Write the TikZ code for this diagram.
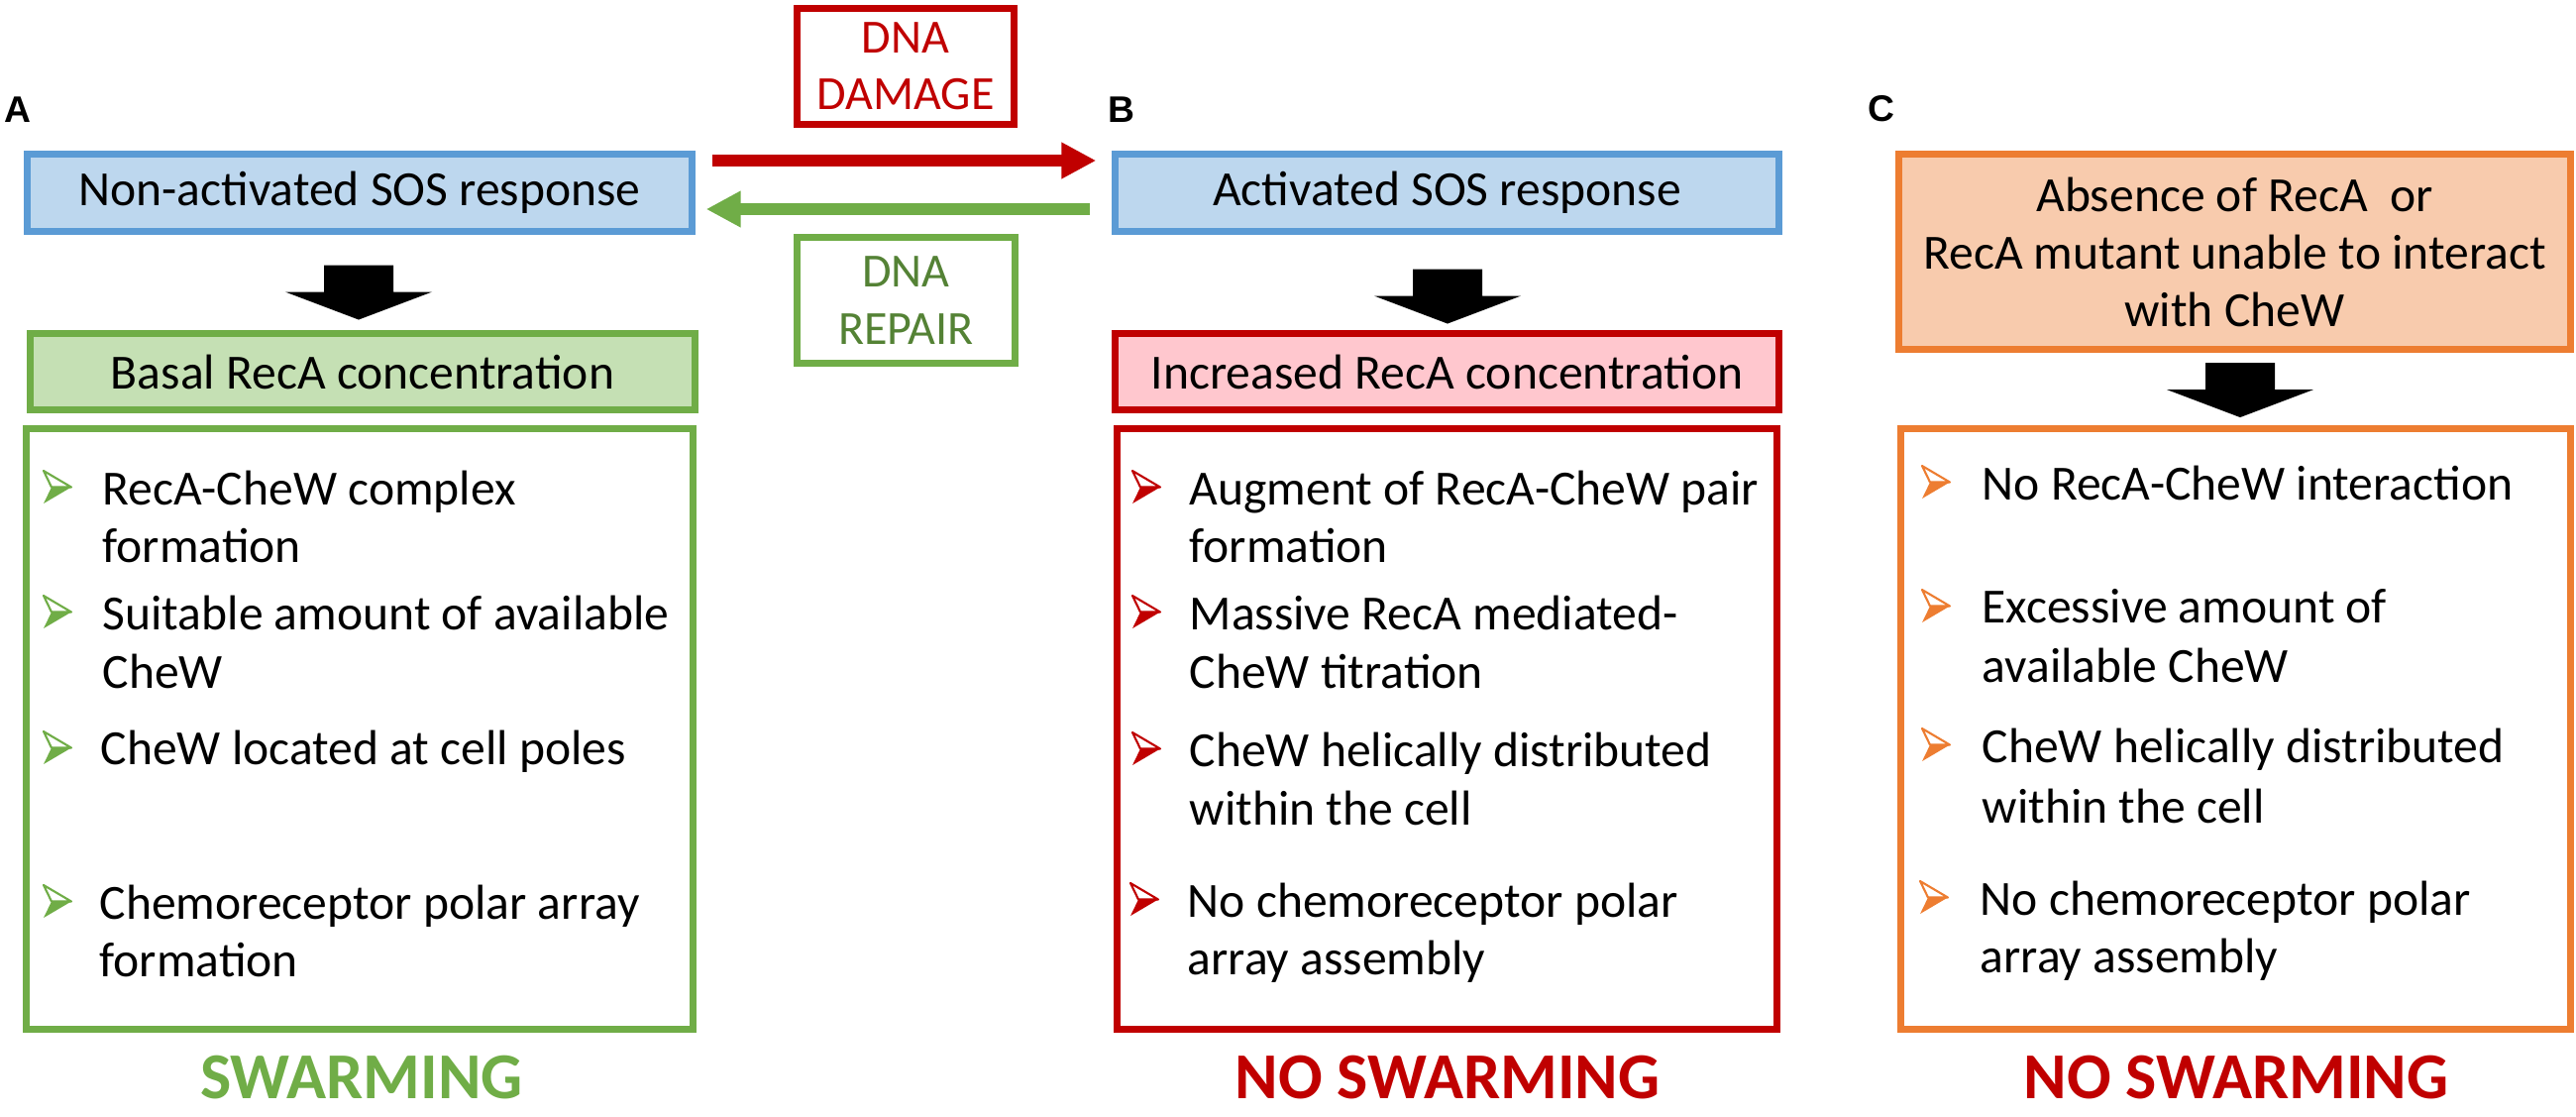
\documentclass[tikz,border=0pt]{standalone}
\usepackage{fontspec}
\setmainfont{Carlito}
\newfontfamily\labfont{Liberation Sans}
\usetikzlibrary{arrows.meta,calc}
\definecolor{bluebd}{HTML}{5B9BD5}
\definecolor{bluefill}{HTML}{BDD7EE}
\definecolor{greenbd}{HTML}{70AD47}
\definecolor{greenfill}{HTML}{C5E0B4}
\definecolor{greentxt}{HTML}{548235}
\definecolor{redbd}{HTML}{C00000}
\definecolor{redfill}{HTML}{FFC7CE}
\definecolor{orangebd}{HTML}{ED7D31}
\definecolor{orangefill}{HTML}{F8CBAD}
\tikzset{
  box/.style={draw, line width=2pt, inner sep=0pt, align=center,
    font=\fontsize{14.1}{16.5}\selectfont},
  dnabox/.style={box, font=\fontsize{13.66}{16.3}\selectfont},
  item/.style={inner sep=0pt, anchor=base west, font=\fontsize{14.1}{16.5}\selectfont},
  lab/.style={inner sep=0pt, anchor=base west, font=\labfont\bfseries\fontsize{10.6}{12}\selectfont},
  swarm/.style={inner sep=0pt, anchor=base, font=\bfseries\fontsize{18.8}{20}\selectfont},
  flowarrow/.style={line width=0.115cm, -{Triangle[length=0.35cm,width=0.345cm]}},
  pics/bul/.style={code={
    \filldraw[draw=#1, fill=white, line width=0.6pt, line join=round] (0,0) -- (28,16.5) -- (8,16.5) -- cycle;
    \fill[#1] (8,16.5) -- (28,16.5) -- (0,33) -- cycle;
  }},
  pics/blockarr/.style={code={
    \fill[black] (-35,0) -- (35,0) -- (35,27) -- (74,27) -- (0,55) -- (-74,27) -- (-35,27) -- cycle;
  }}
}
\begin{document}
\begin{tikzpicture}[x=0.01cm,y=-0.01cm]
\useasboundingbox (0,0) rectangle (2600,1126);

% labels
\node[lab] (labA) at (4,123) {A};
\node[lab] (labB) at (1118,123) {B};
\node[lab] (labC) at (1885,122) {C};

% top boxes
\node[box, draw=bluebd, fill=bluefill, minimum width=6.71cm, minimum height=0.78cm] (nonact) at (363,194.5) {Non-activated SOS response};
\node[box, draw=bluebd, fill=bluefill, minimum width=6.70cm, minimum height=0.78cm] (act) at (1460.5,194.5) {Activated SOS response};
\node[box, draw=orangebd, fill=orangefill, minimum width=6.78cm, minimum height=1.97cm] (absent) at (2255.5,254) {Absence of RecA~ or\\RecA mutant unable to interact\\with CheW};

% DNA boxes
\node[dnabox, draw=redbd, text=redbd, fill=white, minimum width=2.18cm, minimum height=1.17cm] (dmg) at (914,67) {DNA\\DAMAGE};
\node[dnabox, draw=greenbd, text=greentxt, fill=white, minimum width=2.20cm, minimum height=1.27cm] (rep) at (914.5,303) {DNA\\REPAIR};

% transitions
\draw[flowarrow, redbd] ($(nonact.east)+(16.5,-32.5)$) -- ($(act.west)+(-15.5,-32.5)$);
\draw[flowarrow, greenbd] ($(act.west)+(-21.5,16.5)$) -- ($(nonact.east)+(10.5,16.5)$);

% concentration boxes
\node[box, draw=greenbd, fill=greenfill, minimum width=6.71cm, minimum height=0.77cm] (basal) at (366,375) {Basal RecA concentration};
\node[box, draw=redbd, fill=redfill, minimum width=6.70cm, minimum height=0.77cm] (incr) at (1460.5,375) {Increased RecA concentration};

% block arrows
\pic at ($(nonact.south)+(-1,30.5)$) {blockarr};
\pic at ($(act.south)+(0.5,34.5)$) {blockarr};
\pic at ($(absent.south)+(5.5,10)$) {blockarr};

% big boxes
\node[box, draw=greenbd, minimum width=6.72cm, minimum height=6.05cm] (bigA) at (363,735.5) {};
\node[box, draw=redbd, minimum width=6.66cm, minimum height=6.05cm] (bigB) at (1460.5,735.5) {};
\node[box, draw=orangebd, minimum width=6.76cm, minimum height=6.05cm] (bigC) at (2256.5,735.5) {};

% column A items
\pic at (44,475) {bul=greenbd};
\node[item] (a1) at (103,509) {RecA-CheW complex};
\node[item] (a1b) at (103,567) {formation};
\pic at (44,601) {bul=greenbd};
\node[item] (a2) at (103,635) {Suitable amount of available};
\node[item] (a2b) at (103,694) {CheW};
\pic at (44,738) {bul=greenbd};
\node[item] (a3) at (101,771.5) {CheW located at cell poles};
\pic at (44,893) {bul=greenbd};
\node[item] (a4) at (100,927) {Chemoreceptor polar array};
\node[item] (a4b) at (100,985) {formation};

% column B items
\pic at (1143,475) {bul=redbd};
\node[item] (b1) at (1200,509) {Augment of RecA-CheW pair};
\node[item] (b1b) at (1200,567) {formation};
\pic at (1143,601) {bul=redbd};
\node[item] (b2) at (1200,635) {Massive RecA mediated-};
\node[item] (b2b) at (1200,694) {CheW titration};
\pic at (1143,739) {bul=redbd};
\node[item] (b3) at (1200,773) {CheW helically distributed};
\node[item] (b3b) at (1200,832) {within the cell};
\pic at (1141,891) {bul=redbd};
\node[item] (b4) at (1198,925) {No chemoreceptor polar};
\node[item] (b4b) at (1198,983) {array assembly};

% column C items
\pic at (1940,470) {bul=orangebd};
\node[item] (c1) at (2000,504) {No RecA-CheW interaction};
\pic at (1940,595) {bul=orangebd};
\node[item] (c2) at (2000,628.5) {Excessive amount of};
\node[item] (c2b) at (2000,688) {available CheW};
\pic at (1940,735) {bul=orangebd};
\node[item] (c3) at (2000,769) {CheW helically distributed};
\node[item] (c3b) at (2000,830) {within the cell};
\pic at (1938,889) {bul=orangebd};
\node[item] (c4) at (1998,923) {No chemoreceptor polar};
\node[item] (c4b) at (1998,981) {array assembly};

% outcomes
\node[swarm, text=greenbd] (swA) at (365,1108) {SWARMING};
\node[swarm, text=redbd] (swB) at (1461,1108) {NO SWARMING};
\node[swarm, text=redbd] (swC) at (2257,1108) {NO SWARMING};
\end{tikzpicture}
\end{document}
